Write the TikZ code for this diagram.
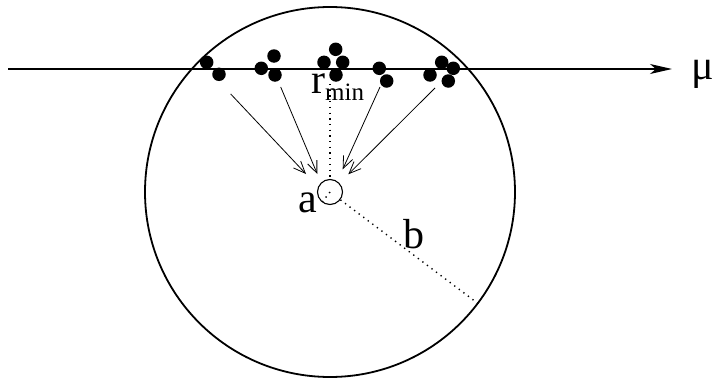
\documentclass[tikz,border=0pt]{standalone}
\usepackage{fontspec}
\setmainfont{Liberation Serif}
\usetikzlibrary{arrows.meta,calc}
\begin{document}
\begin{tikzpicture}[x=1pt,y=-1pt,
  dotp/.style={circle,fill=black,inner sep=0pt,minimum size=13.5pt},
  lbl/.style={inner sep=0pt,anchor=base,font=\fontsize{42}{48}\selectfont},
  ray/.style={line width=0.8pt,-{Straight Barb[length=12pt,width=10pt]}},
  dots/.style={line width=1.4pt,dash pattern=on 1.3pt off 4.4pt},
  ]
\useasboundingbox (0,0) rectangle (716,380);
% big circle and small circle
\node[draw,circle,line width=1.8pt,inner sep=0pt,minimum size=370pt] (B) at (330,192) {};
\node[draw,circle,line width=1.1pt,inner sep=0pt,minimum size=25pt] (S) at (330,192) {};
% beam line
\coordinate (L) at (8,69);
\coordinate (R) at (672,69);
\draw[line width=1.2pt,black,-{Stealth[length=22pt,width=10pt,inset=6pt]}] (L) -- (R);
% particle dots
\node[dotp] (d1) at (206.7,62.3) {};
\node[dotp] (d2) at (219,74.3) {};
\node[dotp] (d3) at (274,56) {};
\node[dotp] (d4) at (261.3,68.3) {};
\node[dotp] (d5) at (275,75) {};
\node[dotp] (d6) at (335.7,49.3) {};
\node[dotp] (d7) at (324,62.3) {};
\node[dotp] (d8) at (342.7,62.3) {};
\node[dotp] (d9) at (336,75) {};
\node[dotp] (d10) at (379.3,68.3) {};
\node[dotp] (d11) at (386.7,81) {};
\node[dotp] (d12) at (441.7,62.3) {};
\node[dotp] (d13) at (453.3,68.3) {};
\node[dotp] (d14) at (430,75) {};
\node[dotp] (d15) at (448.3,81) {};
% arrows toward centre
\coordinate (s1) at (230.7,94);  \coordinate (e1) at (306,174);
\coordinate (s2) at (280.7,87);  \coordinate (e2) at (317.3,174);
\coordinate (s3) at (380,87);    \coordinate (e3) at (342.7,169.3);
\coordinate (s4) at (435,88);    \coordinate (e4) at (348.3,174.3);
\draw[ray] (s1) -- (e1);
\draw[ray] (s2) -- (e2);
\draw[ray] (s3) -- (e3);
\draw[ray] (s4) -- (e4);
% dotted radii
\coordinate (rtop) at (330,84);
\draw[dots] (rtop) -- (S.north);
\draw[dots] (S.center) -- (S.232);
\draw[dots] (S.-37) -- (B.-37);
% labels
\node[lbl] (la) at (308,212) {a};
\node[lbl] (lb) at (414,248) {b};
\node[lbl,anchor=base west] (lr) at (311,93) {r\raisebox{-7pt}{\fontsize{25}{25}\selectfont min}};
\node[lbl,anchor=base west] (lmu) at (691,79) {μ};
\end{tikzpicture}
\end{document}
